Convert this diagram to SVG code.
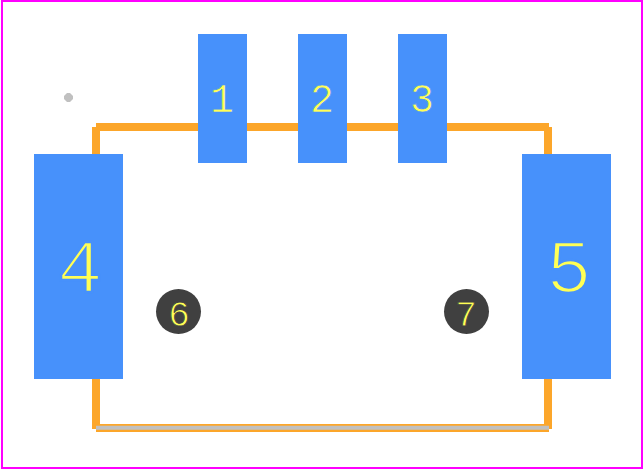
<svg xmlns="http://www.w3.org/2000/svg" width="644" height="470" viewBox="0 0 644 470">
<style>
.pad{fill:#4791fb}
.hole{fill:#404040}
.l{fill:none;stroke:#fca62a;stroke-width:8}
.t{font-family:"Liberation Mono",monospace;fill:#ffff55;text-anchor:middle}
.s{font-size:40px;stroke:#4791fb;stroke-width:.7}
.b{font-size:76px;stroke:#4791fb;stroke-width:2.4}
.m{font-size:36px;stroke:#404040;stroke-width:.8}
</style>
<rect width="644" height="470" fill="#fff"/>
<rect x="2" y="1" width="640" height="467" fill="none" stroke="#ff00ff" stroke-width="2"/>
<g id="connectors">
<path class="l" d="M96 127H549"/>
<path class="l" d="M96 127V429"/>
<path class="l" d="M548 127V429"/>
<path class="l" d="M96 428H549"/>
<path d="M96 427.7H549" fill="none" stroke="#c0c0c0" stroke-width="4"/>
</g>
<polygon id="origin" points="67,93 70,93 73,96 73,99 70,102 67,102 64,99 64,96" fill="#c0c0c0"/>
<g id="pad1"><rect class="pad" x="198" y="34" width="49" height="129"/><text class="t s" x="222" y="112">1</text></g>
<g id="pad2"><rect class="pad" x="298" y="34" width="49" height="129"/><text class="t s" x="322" y="112">2</text></g>
<g id="pad3"><rect class="pad" x="398" y="34" width="49" height="129"/><text class="t s" x="422" y="112">3</text></g>
<g id="pad4"><rect class="pad" x="34" y="154" width="89" height="225"/><text class="t b" x="80" y="292">4</text></g>
<g id="pad5"><rect class="pad" x="522" y="154" width="89" height="225"/><text class="t b" x="569" y="292">5</text></g>
<g id="pad6"><circle class="hole" cx="178.5" cy="311.5" r="22.5"/><text class="t m" x="179" y="326">6</text></g>
<g id="pad7"><circle class="hole" cx="466.5" cy="311.5" r="22.5"/><text class="t m" x="466" y="326">7</text></g>
</svg>
